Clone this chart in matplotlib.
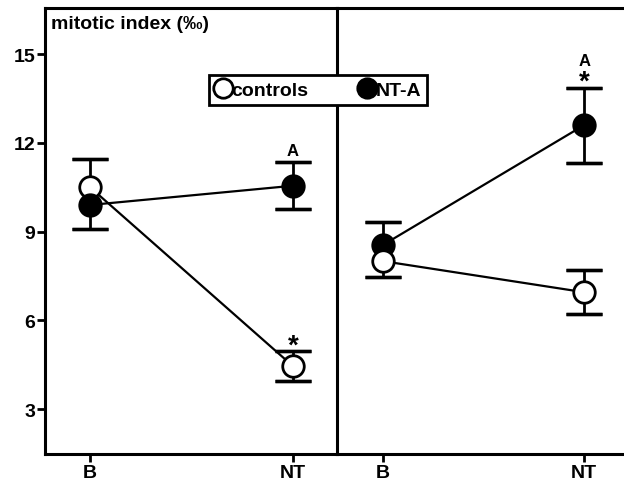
#!/usr/bin/env python3
"""Mitotic index, controls vs NT-A, two panels (B / NT)."""

import matplotlib

matplotlib.use("Agg")
import matplotlib.pyplot as plt
from matplotlib.lines import Line2D

plt.rcParams["font.family"] = ["Liberation Sans", "DejaVu Sans"]
plt.rcParams["font.weight"] = "bold"

CATEGORIES = ["B", "NT"]

# left panel
LEFT_CONTROLS = [10.5, 4.45]
LEFT_CONTROLS_ERR = [0.95, 0.5]
LEFT_NTA = [9.9, 10.55]
LEFT_NTA_ERR = [0.8, 0.8]

# right panel
RIGHT_CONTROLS = [8.0, 6.95]
RIGHT_CONTROLS_ERR = [0.55, 0.75]
RIGHT_NTA = [8.55, 12.6]
RIGHT_NTA_ERR = [0.77, 1.27]

# which side of each error bar is shown (the other is hidden behind a marker)
LEFT_CONTROLS_SIDE = ["up", "both"]
LEFT_NTA_SIDE = ["down", "both"]
RIGHT_CONTROLS_SIDE = ["down", "both"]
RIGHT_NTA_SIDE = ["up", "both"]

Y_TICKS = [3, 6, 9, 12, 15]

W, H = 624, 489
FS = 14


def draw_series(ax, y, err, sides, face, z):
    x = list(range(len(y)))
    for xi, yi, e, s in zip(x, y, err, sides):
        if s in ("up", "both"):
            ax.errorbar([xi], [yi], yerr=[[0], [e]], fmt="none", ecolor="black",
                        elinewidth=2, capsize=0, zorder=z)
            ax.errorbar([xi], [yi + e], yerr=0, fmt="none", ecolor="black",
                        elinewidth=0, capsize=13, capthick=2.4, zorder=z)
        if s in ("down", "both"):
            ax.errorbar([xi], [yi], yerr=[[e], [0]], fmt="none", ecolor="black",
                        elinewidth=2, capsize=0, zorder=z)
            ax.errorbar([xi], [yi - e], yerr=0, fmt="none", ecolor="black",
                        elinewidth=0, capsize=13, capthick=2.4, zorder=z)
    ax.plot(x, y, color="black", linewidth=1.6, zorder=z)
    ax.plot(
        x, y, linestyle="none", marker="o", markersize=15.5,
        markerfacecolor=face, markeredgecolor="black", markeredgewidth=2, zorder=z + 0.5,
    )


def style_axes(ax, xlim):
    ax.set_xlim(*xlim)
    ax.set_ylim(1.48, 16.56)
    ax.set_xticks(range(len(CATEGORIES)))
    ax.set_xticklabels(CATEGORIES, fontsize=FS)
    ax.spines["right"].set_visible(False)
    for s in ("left", "bottom", "top"):
        ax.spines[s].set_linewidth(2.2)
    ax.tick_params(axis="both", direction="out", length=6, width=2, labelsize=FS, pad=1)


fig = plt.figure(figsize=(W / 100, H / 100), dpi=100)
ax_l = fig.add_axes([45 / W, 1 - 455 / H, 292 / W, 446 / H])
ax_r = fig.add_axes([337 / W, 1 - 455 / H, 290 / W, 446 / H])

draw_series(ax_l, LEFT_CONTROLS, LEFT_CONTROLS_ERR, LEFT_CONTROLS_SIDE, "white", 3)
draw_series(ax_l, LEFT_NTA, LEFT_NTA_ERR, LEFT_NTA_SIDE, "black", 4)
style_axes(ax_l, (-0.222, 1.217))
ax_l.set_yticks(Y_TICKS)
ax_l.text(0.02, 0.985, "mitotic index (‰)", transform=ax_l.transAxes,
          fontsize=FS, va="top", ha="left")
ax_l.annotate("A", (1, LEFT_NTA[1] + LEFT_NTA_ERR[1]), xytext=(0, 3),
              textcoords="offset points", ha="center", va="bottom", fontsize=12)
ax_l.annotate("*", (1, LEFT_CONTROLS[1] + LEFT_CONTROLS_ERR[1]), xytext=(0, -5),
              textcoords="offset points", ha="center", va="bottom", fontsize=20)

draw_series(ax_r, RIGHT_NTA, RIGHT_NTA_ERR, RIGHT_NTA_SIDE, "black", 3)
draw_series(ax_r, RIGHT_CONTROLS, RIGHT_CONTROLS_ERR, RIGHT_CONTROLS_SIDE, "white", 4)
style_axes(ax_r, (-0.229, 1.213))
ax_r.set_yticks([])
ax_r.annotate("*", (1, RIGHT_NTA[1] + RIGHT_NTA_ERR[1]), xytext=(0, -5),
              textcoords="offset points", ha="center", va="bottom", fontsize=20)
ax_r.annotate("A", (1, RIGHT_NTA[1] + RIGHT_NTA_ERR[1]), xytext=(0, 14),
              textcoords="offset points", ha="center", va="bottom", fontsize=12)

handles = [
    Line2D([], [], linestyle="none", marker="o", markersize=14, markerfacecolor="white",
           markeredgecolor="black", markeredgewidth=2, label="controls"),
    Line2D([], [], linestyle="none", marker="o", markersize=14, markerfacecolor="black",
           markeredgecolor="black", markeredgewidth=2, label="NT-A"),
]
leg = fig.legend(
    handles=handles, loc="center", bbox_to_anchor=(318 / W, 1 - 91 / H), ncol=2,
    fontsize=FS, frameon=True, fancybox=False, handlelength=0.8, handletextpad=0.05,
    columnspacing=2.6, borderpad=0.3, borderaxespad=0,
)
leg.get_frame().set_edgecolor("black")
leg.get_frame().set_linewidth(2)
leg.get_frame().set_alpha(1)
leg.set_zorder(10)

fig.savefig("out.png", dpi=100)
